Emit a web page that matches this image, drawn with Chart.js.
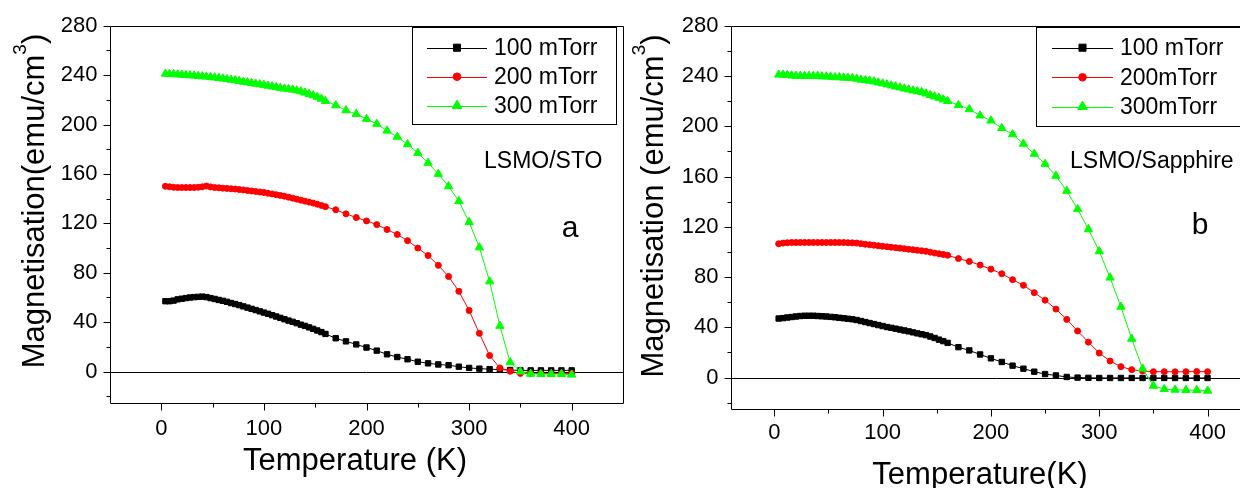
<!DOCTYPE html>
<html><head><meta charset="utf-8">
<script src="https://cdn.jsdelivr.net/npm/chart.js@4"></script>
<style>
html,body{margin:0;padding:0;background:#fff;overflow:hidden;width:1240px;height:488px;position:relative;}
canvas{position:absolute;top:0;}
#c1{left:0;}
#c2{left:620px;}
</style></head><body>
<canvas id="c1" width="640" height="488"></canvas>
<canvas id="c2" width="660" height="488"></canvas>
<script>
// ---------- data ----------
const temperatures = [4,8,12,16,20,24,28,32,36,40,44,48,52,56,60,64,68,72,76,80,84,88,92,96,100,104,108,112,116,120,124,128,132,136,140,144,148,152,156,160,
  170,180,190,200,210,220,230,240,250,260,270,280,290,300,310,320,330,340,350,360,370,380,390,400];

// panel a : LSMO/STO
const sto100 = [57,57,57.5,58.5,59,59.5,60,60.3,60.5,60.7,60.3,59.5,58.8,58,57.3,56.5,55.5,54.7,53.8,52.8,51.8,50.8,49.8,48.8,47.8,46.8,45.7,44.6,43.5,42.4,41.3,40.3,39.2,38,37,35.8,34.6,33.3,32,30.5,
  27,24.5,22,19.5,17,14,11.8,10,8,6.7,5.8,5.2,4,3,2.4,2,1.6,1.3,1,1,1,1,1,1];
const sto200 = [150,149.6,149.2,149,149,149,149,149,149.2,149.6,150.2,149.5,149,148.8,148.5,148.3,148,147.8,147.4,147,146.6,146.2,145.8,145.4,145,144.4,143.8,143.2,142.6,142,141.2,140.4,139.6,138.8,138,137.2,136.4,135.5,134.5,133.5,
  131,127.7,124.7,122,119,115,111,106,100,94,86,77,65,49.5,31,13,3,0.3,-1.5,-1.5,-1.5,-1.5,-1.5,-1.5];
const sto300 = [241,240.9,240.7,240.5,240.3,240,239.8,239.6,239.3,239,238.7,238.4,238,237.6,237.2,236.7,236.2,235.8,235.2,234.6,234.1,233.6,233,232.5,232,231.4,230.8,230.2,229.6,229,228.6,228.2,227.6,226.8,225.8,224.7,223.6,222.4,220.8,219,
  215.5,211.5,208.5,204.5,200.5,195,190,184,177,169,160,150,138,121,100.5,73,37,7.5,0,-1.8,-2,-2,-2,-2.5];

// panel b : LSMO/Sapphire
const sap100 = [47,47.3,47.8,48.2,48.6,49,49.2,49.2,49.2,49,48.8,48.6,48.3,48,47.6,47.2,46.8,46.4,45.8,45,44.2,43.4,42.6,41.8,41,40.2,39.6,38.9,38.2,37.5,36.8,36,35.2,34.5,33.8,32.7,31.5,30.2,29,27.6,
  24.2,21.6,18.4,15.3,12.4,9.5,7.1,4.7,2.8,1.7,0.5,0,-0.2,-0.3,-0.3,-0.3,-0.3,-0.3,-0.3,-0.3,-0.3,-0.3,-0.3,-0.3];
const sap200 = [106.5,107,107.3,107.5,107.5,107.5,107.5,107.5,107.5,107.5,107.5,107.5,107.5,107.5,107.5,107.5,107.3,107.2,107,106.5,106.1,105.7,105.3,104.9,104.5,104.1,103.7,103.3,103,102.6,102.1,101.7,101.3,100.9,100.5,99.8,99.1,98.5,98,97.3,
  94.7,92.4,89.5,86.3,82.6,77.9,73.4,67.6,61.6,54.5,46.3,37.1,28.2,19.5,13.2,8.7,6.3,5.3,4.7,4.7,4.6,4.7,4.8,4.7];
const sap300 = [241,241,240.7,240.3,240,240,240,240,240,240,239.6,239.5,239.3,239,239,238.6,238.5,238.3,237.8,237,236.6,236.2,235.6,234.8,234,233.2,232.4,231.6,230.8,230,229.2,228.4,227.8,227.2,226,224.8,223.6,222.6,221.3,220,
  216.8,213.5,208.5,204.5,198.5,193.5,186,178,170,160.5,148.5,134,118,100.5,79.5,56.3,30.8,7.1,-6.6,-9.2,-9.7,-10,-10,-10.5];

const namesSTO = ['100 mTorr','200 mTorr','300 mTorr'];
const namesSapphire = ['100 mTorr','200mTorr','300mTorr'];

const xTicks = [0,100,200,300,400];
const xMinorTicks = [50,150,250,350];
const yTicks = [0,40,80,120,160,200,240,280];
const yMinorTicks = [-20,20,60,100,140,180,220,260];

// ---------- rendering ----------
const FONT = "'Liberation Sans', Arial, Helvetica, sans-serif";
const STYLES = [
  {color:'#000000', pointStyle:'rect', radius:3.8, legendR:5.0},
  {color:'#ff0000', pointStyle:'circle', radius:3.0, legendR:3.8},
  {color:'#00ff00', pointStyle:'triangle', radius:4.8, legendR:5.6}
];

function marker(ctx, style, x, y, r, color) {
  ctx.save();
  ctx.fillStyle = color; ctx.strokeStyle = color; ctx.lineWidth = 1;
  ctx.beginPath();
  if (style === 'rect') {
    const s = r * Math.SQRT1_2;
    ctx.rect(x - s, y - s, 2 * s, 2 * s);
  } else if (style === 'circle') {
    ctx.arc(x, y, r, 0, Math.PI * 2);
  } else {
    ctx.moveTo(x, y - r);
    ctx.lineTo(x + r * 0.866, y + r / 2);
    ctx.lineTo(x - r * 0.866, y + r / 2);
    ctx.closePath();
  }
  ctx.fill(); ctx.stroke();
  ctx.restore();
}

function drawRotatedTitle(ctx, parts, bx, cy) {
  ctx.save();
  ctx.translate(bx, cy);
  ctx.rotate(-Math.PI / 2);
  let total = 0;
  parts.forEach(p => { ctx.font = p.size + 'px ' + FONT; p.w = ctx.measureText(p.t).width; total += p.w; });
  let x = -total / 2;
  ctx.textAlign = 'left'; ctx.textBaseline = 'alphabetic'; ctx.fillStyle = '#000';
  parts.forEach(p => { ctx.font = p.size + 'px ' + FONT; ctx.fillText(p.t, x, -p.rise); x += p.w; });
  ctx.restore();
}

function decorPlugin(cfg) {
  return {
    id: 'decor',
    beforeDatasetsDraw(chart) {
      const {ctx, chartArea: a} = chart;
      const y0 = Math.round(chart.scales.y.getPixelForValue(0)) + 0.5;
      ctx.save();
      ctx.strokeStyle = '#000'; ctx.lineWidth = 1;
      ctx.beginPath(); ctx.moveTo(a.left, y0); ctx.lineTo(a.right, y0); ctx.stroke();
      ctx.restore();
    },
    afterDraw(chart) {
      const {ctx, chartArea: a} = chart;
      const xs = chart.scales.x, ys = chart.scales.y;
      ctx.save();
      ctx.strokeStyle = '#000'; ctx.lineWidth = 1;
      const L = Math.round(a.left) + 0.5, R = Math.round(a.right) + 0.5;
      const T = Math.round(a.top) + 0.5, B = Math.round(a.bottom) + 0.5;
      ctx.beginPath();
      ctx.moveTo(L, T); ctx.lineTo(R, T); ctx.lineTo(R, B); ctx.lineTo(L, B); ctx.closePath();
      ctx.stroke();
      ctx.beginPath();
      yTicks.forEach(v => { const p = Math.round(ys.getPixelForValue(v)) + 0.5; ctx.moveTo(L - 7, p); ctx.lineTo(L, p); });
      yMinorTicks.forEach(v => { const p = Math.round(ys.getPixelForValue(v)) + 0.5; ctx.moveTo(L - 4, p); ctx.lineTo(L, p); });
      xTicks.forEach(v => { const p = Math.round(xs.getPixelForValue(v)) + 0.5; ctx.moveTo(p, B); ctx.lineTo(p, B + 7); });
      xMinorTicks.forEach(v => { const p = Math.round(xs.getPixelForValue(v)) + 0.5; ctx.moveTo(p, B); ctx.lineTo(p, B + 4); });
      ctx.stroke();

      ctx.fillStyle = '#000';
      ctx.font = cfg.xTitleSize + 'px ' + FONT;
      ctx.textAlign = 'center'; ctx.textBaseline = 'alphabetic';
      ctx.fillText(cfg.xTitle, cfg.xTitleX, cfg.xTitleY);
      drawRotatedTitle(ctx, [
        {t: cfg.yTitle, size: 31, rise: 0},
        {t: '3', size: 19, rise: 18},
        {t: ')', size: 31, rise: 0}
      ], cfg.yTitleX, cfg.yTitleY);

      const lg = cfg.legend;
      ctx.lineWidth = 1; ctx.strokeStyle = '#000';
      ctx.strokeRect(lg.box[0] + 0.5, lg.box[1] + 0.5, lg.box[2], lg.box[3]);
      chart.data.datasets.forEach((d, i) => {
        const ry = lg.rows[i];
        ctx.strokeStyle = d.borderColor; ctx.lineWidth = 1;
        ctx.beginPath(); ctx.moveTo(lg.line[0], Math.round(ry) + 0.5); ctx.lineTo(lg.line[1], Math.round(ry) + 0.5); ctx.stroke();
        marker(ctx, d.pointStyle, (lg.line[0] + lg.line[1]) / 2, ry, STYLES[i].legendR, d.borderColor);
        ctx.fillStyle = '#000';
        ctx.font = '23px ' + FONT; ctx.textAlign = 'left'; ctx.textBaseline = 'middle';
        ctx.fillText(d.label, lg.textX, ry + 1);
      });

      ctx.fillStyle = '#000'; ctx.textBaseline = 'middle';
      ctx.font = '23px ' + FONT; ctx.textAlign = 'left';
      ctx.fillText(cfg.sample, cfg.sampleX, cfg.sampleY);
      ctx.font = '30px ' + FONT; ctx.textAlign = 'center';
      ctx.fillText(cfg.letter, cfg.letterX, cfg.letterY);
      ctx.restore();
    }
  };
}

function buildChart(id, series, names, cfg) {
  const datasets = series.map((vals, i) => ({
    label: names[i],
    data: temperatures.map((t, k) => ({x: t, y: vals[k]})),
    borderColor: STYLES[i].color,
    backgroundColor: STYLES[i].color,
    pointBackgroundColor: STYLES[i].color,
    pointBorderColor: STYLES[i].color,
    pointBorderWidth: 1,
    borderWidth: 1,
    pointStyle: STYLES[i].pointStyle,
    pointRadius: STYLES[i].radius,
    tension: 0,
    order: 3 - i
  }));
  const tickFont = {family: FONT, size: 22};
  return new Chart(document.getElementById(id), {
    type: 'line',
    data: {datasets},
    options: {
      responsive: false, animation: false, devicePixelRatio: 1, events: [],
      layout: {padding: {top: 23, right: cfg.padRight, left: 0, bottom: 0}},
      plugins: {legend: {display: false}, tooltip: {enabled: false}},
      scales: {
        x: {
          type: 'linear', min: cfg.xMin, max: cfg.xMax,
          afterBuildTicks: s => { s.ticks = xTicks.map(v => ({value: v})); },
          afterFit: s => { s.height = cfg.xAxisHeight; },
          grid: {display: false, drawTicks: false},
          border: {display: false},
          ticks: {padding: cfg.xLabelPad, font: tickFont, color: '#000', autoSkip: false, maxRotation: 0, callback: v => String(v)}
        },
        y: {
          type: 'linear', min: -25, max: 280,
          afterBuildTicks: s => { s.ticks = yTicks.map(v => ({value: v})); },
          afterFit: s => { s.width = cfg.yAxisWidth; },
          grid: {display: false, drawTicks: false},
          border: {display: false},
          ticks: {padding: 12.5, font: tickFont, color: '#000', autoSkip: false, callback: v => String(v)}
        }
      }
    },
    plugins: [decorPlugin(cfg)]
  });
}

buildChart('c1', [sto100, sto200, sto300], namesSTO, {
  xMin: -50, xMax: 450, yAxisWidth: 110, padRight: 17, xAxisHeight: 85.5, xLabelPad: 13.5,
  xTitle: 'Temperature (K)', xTitleSize: 31, xTitleX: 355, xTitleY: 470,
  yTitle: 'Magnetisation(emu/cm', yTitleX: 44, yTitleY: 201,
  legend: {box: [412, 27, 204, 97], line: [427, 487], rows: [47.7, 76.7, 105.7], textX: 494},
  sample: 'LSMO/STO', sampleX: 484, sampleY: 162, letter: 'a', letterX: 570, letterY: 229
});

buildChart('c2', [sap100, sap200, sap300], namesSapphire, {
  xMin: -40, xMax: 450, yAxisWidth: 111, padRight: 18.3, xAxisHeight: 79, xLabelPad: 11,
  xTitle: 'Temperature(K)', xTitleSize: 31, xTitleX: 360, xTitleY: 484,
  yTitle: 'Magnetisation (emu/cm', yTitleX: 43, yTitleY: 206,
  legend: {box: [416, 27, 240, 99], line: [432, 493], rows: [47.7, 77.3, 106.7], textX: 500},
  sample: 'LSMO/Sapphire', sampleX: 450, sampleY: 162, letter: 'b', letterX: 580, letterY: 226
});
</script>
</body></html>
